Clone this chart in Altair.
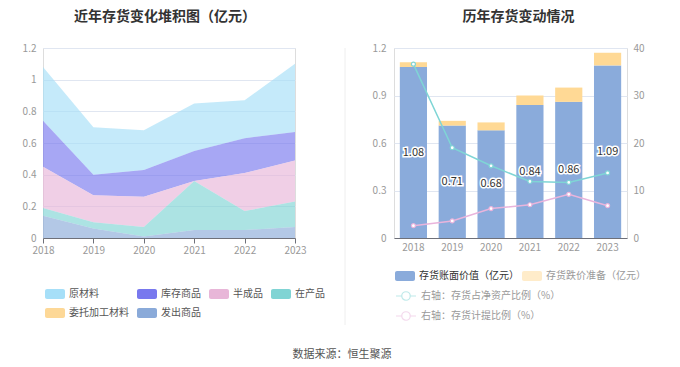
import altair as alt
import pandas as pd

FONT = "Noto Sans CJK SC"

years = ["2018", "2019", "2020", "2021", "2022", "2023"]

# ---- left panel: stacked inventory composition (亿元)
categories = ["原材料", "库存商品", "半成品", "在产品", "委托加工材料", "发出商品"]
raw_material = [0.34, 0.30, 0.25, 0.30, 0.24, 0.43]
stock_goods = [0.29, 0.13, 0.17, 0.19, 0.22, 0.18]
semi_finished = [0.26, 0.17, 0.19, 0.00, 0.24, 0.26]
in_process = [0.05, 0.04, 0.06, 0.31, 0.12, 0.16]
entrusted = [0.0, 0.0, 0.0, 0.0, 0.0, 0.0]
shipped = [0.14, 0.06, 0.01, 0.05, 0.05, 0.07]
cat_colors = ["#a6dff8", "#7878ee", "#e8b6d8", "#80d4d4", "#fdd897", "#8aaad9"]
stack_rank = [5, 4, 3, 2, 1, 0]

# ---- right panel
bar_series = ["存货账面价值（亿元）", "存货跌价准备（亿元）"]
book_value = [1.08, 0.71, 0.68, 0.84, 0.86, 1.09]
impairment = [0.03, 0.03, 0.05, 0.06, 0.09, 0.08]
bar_colors = ["#8aabdb", "#ffd995"]

ratio_series = ["右轴：存货占净资产比例（%）", "右轴：存货计提比例（%）"]
net_asset_ratio = [36.6, 19.0, 15.2, 11.9, 11.7, 13.7]
provision_ratio = [2.6, 3.6, 6.2, 7.0, 9.2, 6.8]
ratio_colors = ["#7fd5d5", "#e9b4dc"]

footer = "数据来源：恒生聚源"

# ---------- tables
rows = []
for cat, vals, rank in zip(categories,
                           [raw_material, stock_goods, semi_finished, in_process, entrusted, shipped],
                           stack_rank):
    for y, v in zip(years, vals):
        rows.append({"year": y, "category": cat, "value": v, "rank": rank})
left_df = pd.DataFrame(rows)

brows = []
for s, vals, rank in zip(bar_series, [book_value, impairment], [0, 1]):
    for y, v in zip(years, vals):
        brows.append({"year": y, "series": s, "value": v, "rank": rank})
bar_df = pd.DataFrame(brows)

label_df = pd.DataFrame({"year": years, "value": book_value})

lrows = []
for s, vals in zip(ratio_series, [net_asset_ratio, provision_ratio]):
    for y, v in zip(years, vals):
        lrows.append({"year": y, "series": s, "ratio": v})
line_df = pd.DataFrame(lrows)

rect_path = ("M-0.6,-1 H2.6 A0.4,0.4 0 0 1 3,-0.6 V0.6 A0.4,0.4 0 0 1 2.6,1 "
             "H-0.6 A0.4,0.4 0 0 1 -1,0.6 V-0.6 A0.4,0.4 0 0 1 -0.6,-1 Z")
line_path = ("M-1,0 H0.15 M1.85,0 H3 M0.15,0 A0.85,0.85 0 1 1 1.85,0 "
             "A0.85,0.85 0 1 1 0.15,0")

axis_label = dict(labelColor="#999999", labelFontSize=10, labelFont=FONT)

# ---------- left chart
left = alt.Chart(left_df).mark_area(opacity=0.65).encode(
    x=alt.X("year:O", scale=alt.Scale(type="point", padding=0),
            axis=alt.Axis(title=None, labelAngle=0, domainColor="#6e7079", tickColor="#6e7079",
                          tickSize=5, labelPadding=2, grid=False, **axis_label)),
    y=alt.Y("value:Q", stack="zero", scale=alt.Scale(domain=[0, 1.2], nice=False),
            axis=alt.Axis(title=None, values=[0, 0.2, 0.4, 0.6, 0.8, 1.0, 1.2], format="~g",
                          domain=False, ticks=False, gridColor="#e0e6f1", labelPadding=7, **axis_label)),
    color=alt.Color("category:N", scale=alt.Scale(domain=categories, range=cat_colors),
                    legend=alt.Legend(title=None, orient="none", legendX=2, legendY=241,
                                      direction="horizontal", columns=4, gridAlign="none",
                                      columnPadding=8, rowPadding=9,
                                      symbolType=rect_path, symbolSize=100, symbolStrokeWidth=0,
                                      symbolOpacity=1, labelOffset=14, labelFontSize=10,
                                      labelFont=FONT, labelColor="#555555")),
    order=alt.Order("rank:Q"),
).properties(
    width=252, height=190,
    title=alt.TitleParams("近年存货变化堆积图（亿元）", fontSize=14, fontWeight="bold",
                          color="#333333", font=FONT, anchor="middle", offset=19, dx=-4,
                          frame="group"),
)

# ---------- right chart
xr = alt.X("year:O", scale=alt.Scale(paddingInner=0.3, paddingOuter=0.15),
           axis=alt.Axis(title=None, labelAngle=0, ticks=False, domainColor="#6e7079",
                         labelPadding=4, grid=False, **axis_label))

bars = alt.Chart(bar_df).mark_bar().encode(
    x=xr,
    y=alt.Y("value:Q", stack="zero", scale=alt.Scale(domain=[0, 1.2], nice=False),
            axis=alt.Axis(title=None, values=[0, 0.3, 0.6, 0.9, 1.2], format="~g",
                          domain=False, ticks=False, gridColor="#e0e6f1", labelPadding=8, **axis_label)),
    color=alt.Color("series:N", scale=alt.Scale(domain=bar_series, range=bar_colors),
                    legend=alt.Legend(title=None, orient="none", legendX=1, legendY=223,
                                      direction="horizontal", columns=2, gridAlign="none",
                                      columnPadding=3,
                                      symbolType=rect_path, symbolSize=100, symbolStrokeWidth=0,
                                      symbolOpacity=alt.ExprRef("datum.index == 0 ? 1 : 0.5"),
                                      labelOffset=14, labelFontSize=10, labelFont=FONT,
                                      labelColor=alt.ExprRef("datum.index == 0 ? '#333333' : '#9a9a9a'"))),
    order=alt.Order("rank:Q"),
)

lab_base = alt.Chart(label_df).transform_calculate(mid="datum.value / 2").encode(
    x="year:O",
    y=alt.Y("mid:Q"),
    text=alt.Text("value:Q", format=".2f"),
)
halo = lab_base.mark_text(fontSize=11, font=FONT, stroke="white", strokeWidth=3, color="white")
text = lab_base.mark_text(fontSize=11, font=FONT, color="#333333")

lines = alt.Chart(line_df).mark_line(
    strokeWidth=1.5,
    point=alt.OverlayMarkDef(filled=True, fill="white", size=16, strokeWidth=1.2),
).encode(
    x="year:O",
    y=alt.Y("ratio:Q", scale=alt.Scale(domain=[0, 40], nice=False),
            axis=alt.Axis(title=None, orient="right", values=[0, 10, 20, 30, 40],
                          grid=False, domain=False, ticks=False, labelPadding=6, **axis_label)),
    stroke=alt.Stroke("series:N", scale=alt.Scale(domain=ratio_series, range=ratio_colors),
                      legend=alt.Legend(title=None, orient="none", legendX=1, legendY=242,
                                        direction="vertical", rowPadding=6,
                                        symbolType=line_path, symbolSize=100,
                                        symbolStrokeWidth=1.2, symbolFillColor="white",
                                        symbolOpacity=0.5, labelOffset=14, labelFontSize=10,
                                        labelFont=FONT, labelColor="#9a9a9a")),
)

divider = alt.Chart(pd.DataFrame({"d": [0]})).mark_rule(color="#eeeeee", strokeWidth=1).encode(
    x=alt.value(-49), y=alt.value(0), y2=alt.value(277)
)

right = alt.layer(alt.layer(bars, halo, text), lines, divider).resolve_scale(
    y="independent"
).properties(
    width=233, height=190,
    title=alt.TitleParams("历年存货变动情况", fontSize=14, fontWeight="bold",
                          color="#333333", font=FONT, anchor="middle", offset=19, dx=8,
                          frame="group"),
)

chart = alt.hconcat(
    left, right, spacing=99, bounds="flush",
    padding={"left": 13, "top": 1, "right": 5, "bottom": 5},
    title=alt.TitleParams(footer, orient="bottom", anchor="middle", fontSize=11,
                          fontWeight="normal", color="#555555", font=FONT, offset=23, dx=8),
).resolve_scale(color="independent", stroke="independent").configure_view(stroke=None).configure(font=FONT)

chart.save("out.html", embed_options={"renderer": "svg", "actions": False})
